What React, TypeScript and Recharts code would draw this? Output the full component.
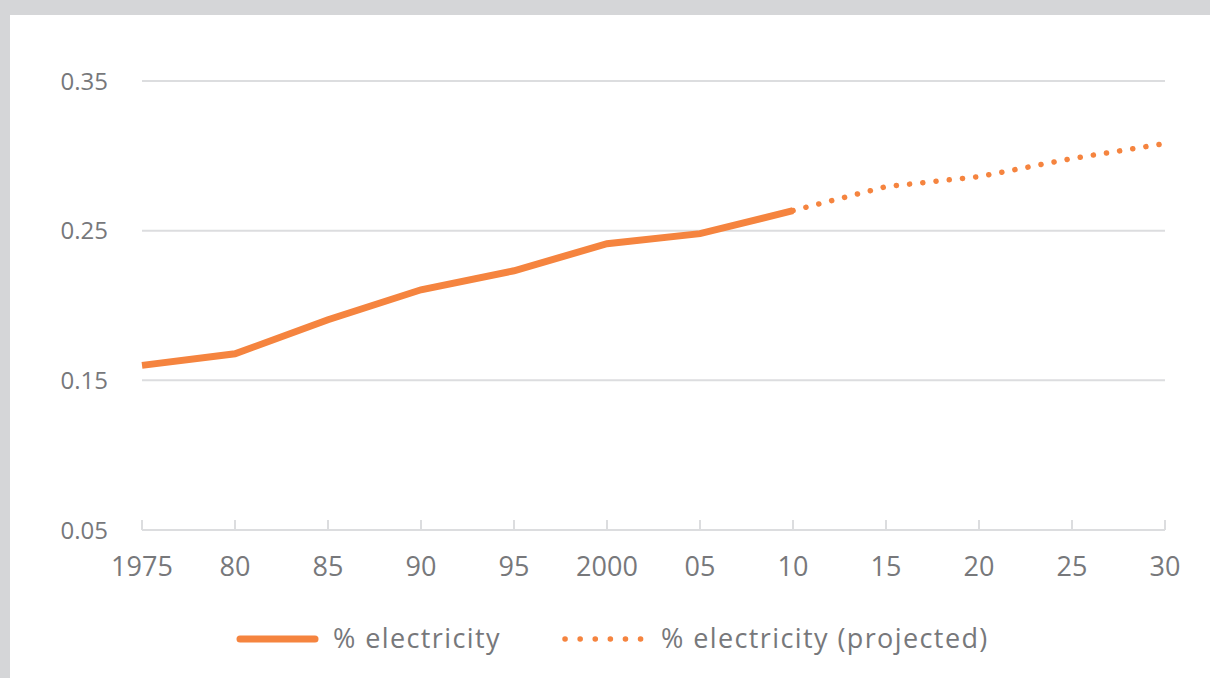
import React from "react";
import { LineChart, Line, XAxis, YAxis, CartesianGrid } from "recharts";

const years = [1975, 1980, 1985, 1990, 1995, 2000, 2005, 2010, 2015, 2020, 2025, 2030];
const actual = [0.16, 0.1677, 0.1905, 0.2105, 0.2232, 0.2413, 0.248, 0.2634, null, null, null, null];
const projected = [null, null, null, null, null, null, null, 0.2634, 0.2794, 0.2861, 0.2982, 0.3082];
const xTickLabels = ["1975", "80", "85", "90", "95", "2000", "05", "10", "15", "20", "25", "30"];
const yTicks = [0.05, 0.15, 0.25, 0.35];
const seriesNames = ["% electricity", "% electricity (projected)"];

const ORANGE = "#F5843F";
const GRID = "#dcdddf";
const TEXT = "#77787b";
const FONT = "'Open Sans', sans-serif";

const data = years.map((y, i) => ({ year: y, actual: actual[i], projected: projected[i] }));

export default function App() {
  return (
    <div style={{ position: "absolute", left: 0, top: 0, width: 1210, height: 678, background: "#d5d6d8", overflow: "hidden" }}>
      <div style={{ position: "absolute", left: 10, top: 15, width: 1200, height: 663, background: "#ffffff" }}>
        <LineChart width={1200} height={663} data={data} margin={{ top: 66, right: 45, left: 32, bottom: 88 }}>
          <CartesianGrid horizontal vertical={false} stroke={GRID} strokeWidth={2} />
          <XAxis
            dataKey="year"
            type="number"
            domain={[1975, 2030]}
            ticks={years}
            interval={0}
            tickFormatter={(v: number) => xTickLabels[years.indexOf(v)]}
            axisLine={{ stroke: GRID, strokeWidth: 2 }}
            tickLine={{ stroke: GRID, strokeWidth: 2 }}
            tickSize={-10}
            tickMargin={37}
            height={60}
            tick={{ fill: TEXT, fontSize: 27, fontFamily: FONT, fontWeight: 400 }}
          />
          <YAxis
            type="number"
            domain={[0.05, 0.35]}
            ticks={yTicks}
            tickFormatter={(v: number) => v.toFixed(2)}
            axisLine={false}
            tickLine={false}
            tickMargin={34}
            tickSize={0}
            width={100}
            tick={{ fill: TEXT, fontSize: 24, fontFamily: FONT, fontWeight: 400 }}
          />
          <Line
            dataKey="actual"
            stroke={ORANGE}
            strokeWidth={7}
            dot={false}
            connectNulls={false}
            isAnimationActive={false}
          />
          <Line
            dataKey="projected"
            stroke={ORANGE}
            strokeWidth={5.5}
            strokeDasharray="0.1 13.2"
            strokeLinecap="round"
            dot={false}
            connectNulls={false}
            isAnimationActive={false}
          />
        </LineChart>
        <div style={{ position: "absolute", left: 0, top: 600, width: 1200, height: 50, fontFamily: FONT, fontWeight: 400, fontSize: 27, letterSpacing: 1.4, color: TEXT }}>
          <svg style={{ position: "absolute", left: 220, top: 14 }} width={90} height={20}>
            <line x1={10} y1={10} x2={85} y2={10} stroke={ORANGE} strokeWidth={7} strokeLinecap="round" />
          </svg>
          <span style={{ position: "absolute", left: 323, top: 4, whiteSpace: "nowrap" }}>{seriesNames[0]}</span>
          <svg style={{ position: "absolute", left: 550, top: 14 }} width={90} height={20}>
            <line x1={5} y1={10} x2={81} y2={10} stroke={ORANGE} strokeWidth={5.5} strokeDasharray="0.1 15" strokeLinecap="round" />
          </svg>
          <span style={{ position: "absolute", left: 651, top: 4, whiteSpace: "nowrap" }}>{seriesNames[1]}</span>
        </div>
      </div>
    </div>
  );
}
